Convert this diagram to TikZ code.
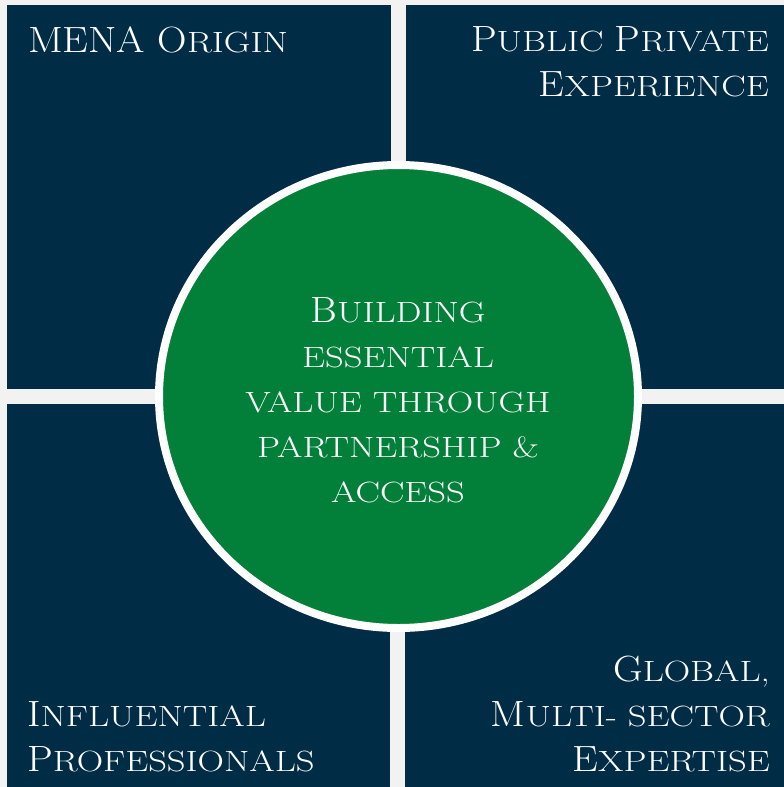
\documentclass[tikz,border=0pt]{standalone}
\usepackage{fontspec}
\usetikzlibrary{shapes.geometric}
\newfontfamily\cpfont{lmroman17-regular}[Extension=.otf,FakeStretch=1.25]
\newfontfamily\cpcap{lmroman17-regular}[Extension=.otf,FakeStretch=1.12]
\definecolor{navy}{RGB}{0,45,69}
\definecolor{leaf}{RGB}{2,128,58}
\definecolor{gapgrey}{RGB}{242,242,242}
\newcommand\Cap[1]{{\cpcap\fontsize{36.5pt}{45pt}\selectfont #1}}
\tikzset{
  lbl/.style={text=white, inner sep=0pt, font=\cpfont\fontsize{29.3pt}{45pt}\selectfont},
  quad/.style={fill=navy},
  hubstyle/.style={ellipse, draw=white, line width=8pt, fill=leaf, inner sep=0pt,
    minimum width=479pt, minimum height=463pt}
}
\begin{document}
\begin{tikzpicture}[x=1pt,y=-1pt]
\useasboundingbox (0,0) rectangle (784,787);
\fill[gapgrey] (0,0) rectangle (784,787);
% quadrants
\fill[quad] (7,5) rectangle (391,389);
\fill[quad] (406,5) rectangle (784,389);
\fill[quad] (7,404) rectangle (390,787);
\fill[quad] (405,404) rectangle (784,787);
% centre
\node[hubstyle] (hub) at (398.5,396.5) {};
\node[lbl, align=center, anchor=north] (hubtext) at (398,297)
  {\Cap{B}UILDING\\ESSENTIAL\\VALUE THROUGH\\PARTNERSHIP \&\\ACCESS};
% labels
\node[lbl, anchor=north west] (mena) at (28,26) {\Cap{MENA O}RIGIN};
\node[lbl, anchor=north east, align=right] (ppp) at (769,26)
  {\Cap{P}UBLIC \Cap{P}RIVATE\\\Cap{E}XPERIENCE};
\node[lbl, anchor=south west, align=left] (infl) at (27,772)
  {\Cap{I}NFLUENTIAL\\\Cap{P}ROFESSIONALS};
\node[lbl, anchor=south east, align=right] (glob) at (770,772)
  {\Cap{G}LOBAL,\\\Cap{M}ULTI- SECTOR\\\Cap{E}XPERTISE};
\end{tikzpicture}
\end{document}
